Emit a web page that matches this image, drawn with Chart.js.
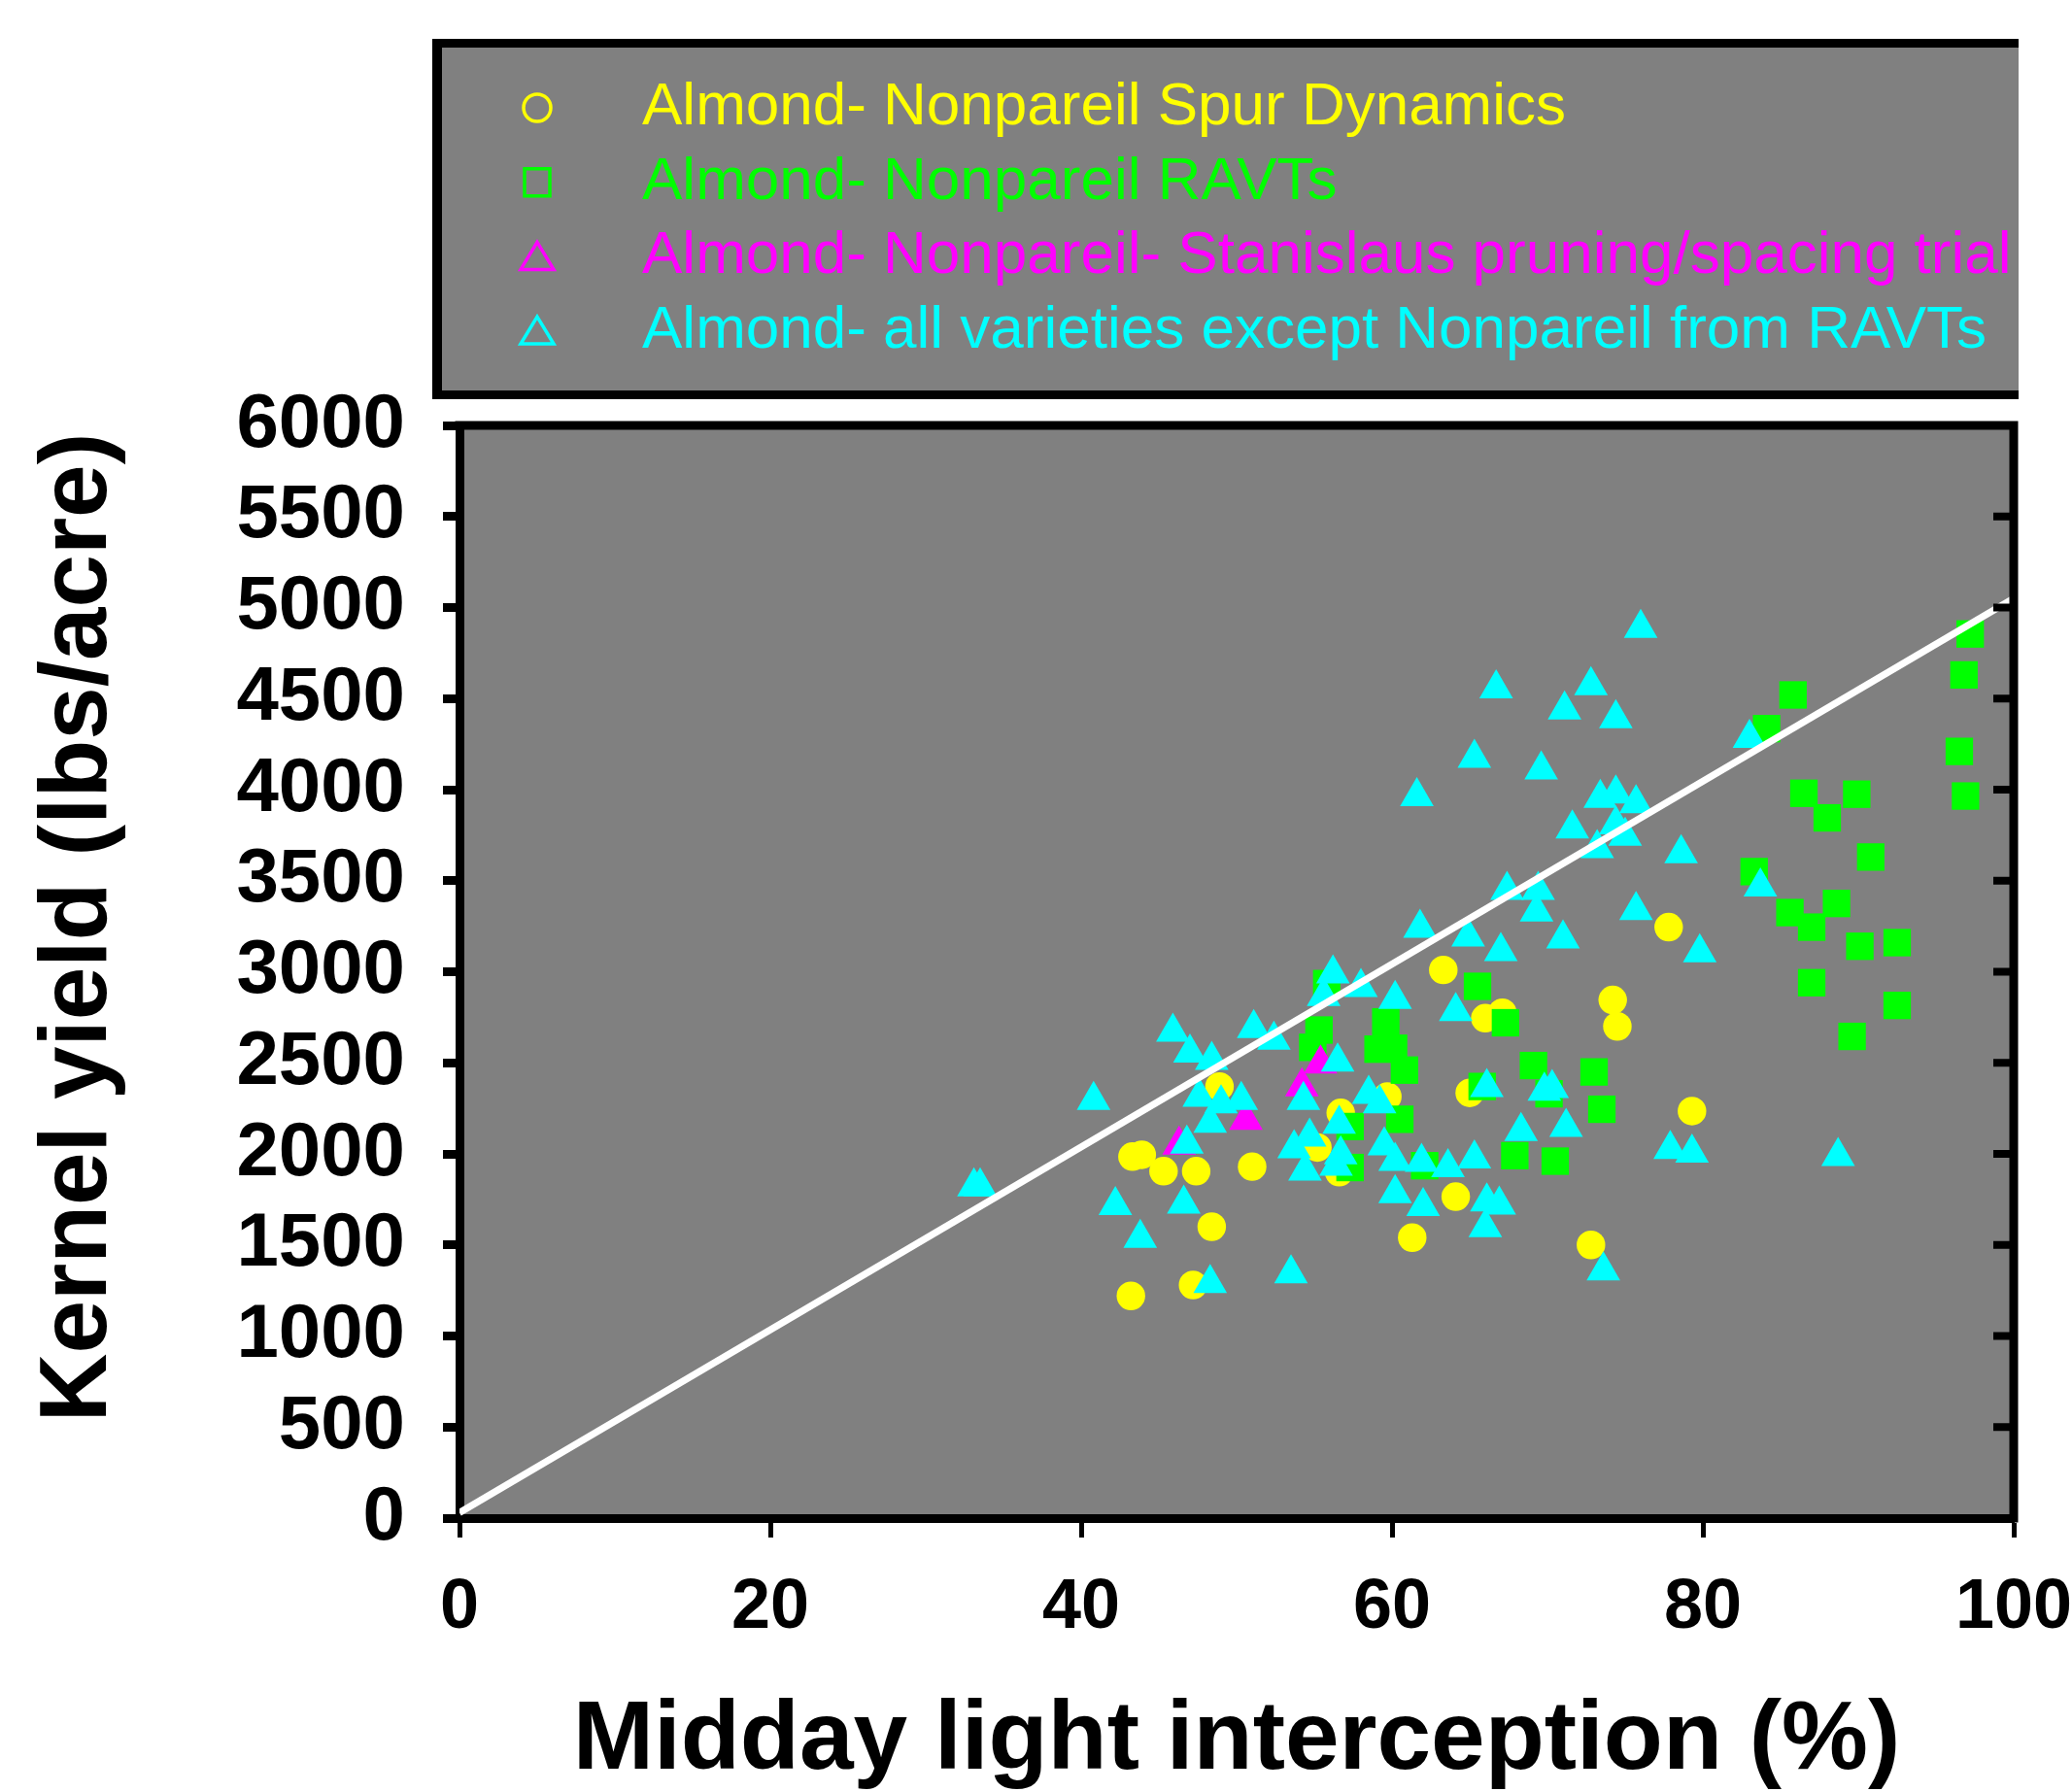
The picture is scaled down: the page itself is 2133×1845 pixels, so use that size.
<!DOCTYPE html>
<html>
<head>
<meta charset="utf-8">
<title>Kernel yield vs midday light interception</title>
<script src="https://cdn.jsdelivr.net/npm/chart.js@4.4.1/dist/chart.umd.min.js"></script>
<style>
  html, body { margin: 0; padding: 0; background: #fff; }
  #wrap { width: 2133px; height: 1845px; }
</style>
</head>
<body>
<div id="wrap"><canvas id="yieldChart" width="2133" height="1845"></canvas></div>
<script>
const seriesNames = [
  "Almond- Nonpareil Spur Dynamics",
  "Almond- Nonpareil RAVTs",
  "Almond- Nonpareil- Stanislaus pruning/spacing trial",
  "Almond- all varieties except Nonpareil from RAVTs"
];
const seriesColors = ["#ffff00", "#00ff00", "#ff00ff", "#00ffff"];
const seriesStyles = ["circle", "rect", "triangle", "triangle"];

const spurX = [43.2, 47.2, 48.4, 43.3, 43.9, 45.3, 47.4, 51.0, 48.9, 56.7, 55.2, 56.6,
  59.7, 65.0, 63.3, 66.0, 67.1, 74.2, 74.5, 77.8, 79.3, 64.1, 61.3, 72.8];
const spurY = [1220, 1280, 1600, 1985, 1995, 1905, 1905, 1930, 2370, 2225, 2035, 1900,
  2315, 2335, 3010, 2745, 2775, 2845, 2700, 3245, 2235, 1765, 1540, 1500];

const ravtX = [55.8, 55.3, 54.9, 65.5, 67.3, 59.6, 59.1, 60.1, 60.8, 60.5,
  57.3, 57.3, 62.1, 65.8, 69.1, 70.1, 73.0, 73.5, 67.9, 70.5,
  97.2, 96.8, 96.5, 96.9, 85.8, 84.1, 86.5, 88.0, 89.9, 90.8,
  83.3, 85.6, 87.0, 88.6, 90.1, 92.5, 87.0, 92.5, 89.6];
const ravtY = [2935, 2680, 2585, 2920, 2720, 2725, 2575, 2580, 2460, 2190,
  2150, 1925, 1935, 2370, 2485, 2330, 2450, 2245, 1990, 1960,
  4855, 4630, 4210, 3965, 4520, 4335, 3980, 3845, 3975, 3630,
  3550, 3325, 3245, 3375, 3140, 3160, 2940, 2815, 2645];

const stanX = [46.3, 50.6, 54.2, 55.4];
const stanY = [2050, 2185, 2370, 2495];

const otherX = [33.1, 33.5, 40.8, 45.9, 47.0, 48.4, 51.1, 52.4, 56.2, 55.6,
  58.0, 60.2, 47.6, 49.0, 50.3, 48.3, 54.3, 46.8, 53.7, 54.7,
  54.4, 42.2, 43.8, 46.6, 48.3, 53.5, 64.1, 56.5, 58.5, 59.2,
  56.6, 56.7, 56.4, 66.1, 69.8, 70.3, 68.3, 71.2, 59.5, 60.2,
  61.9, 63.6, 65.3, 60.2, 62.0, 66.1, 66.9, 66.0, 73.6, 77.9,
  79.3, 76.0, 66.7, 72.8, 71.1, 74.4, 65.3, 69.6, 61.6, 73.4,
  74.4, 75.7, 71.6, 74.4, 75.0, 73.2, 78.6, 67.4, 69.4, 69.3,
  75.7, 61.8, 64.9, 67.0, 71.0, 79.8, 83.0, 83.7, 88.7];
const otherY = [1820, 1820, 2295, 2670, 2555, 2515, 2690, 2625, 2990, 2865,
  2915, 2850, 2312, 2276, 2295, 2170, 2295, 2055, 2030, 2093,
  1907, 1717, 1537, 1726, 1290, 1343, 2783, 2506, 2328, 2276,
  2164, 1996, 1933, 2365, 2346, 2360, 2124, 2147, 2045, 1960,
  1955, 1925, 1973, 1783, 1712, 1738, 1720, 1596, 1359, 2025,
  2005, 4887, 4555, 4572, 4439, 4391, 4173, 4110, 3963, 3954,
  3977, 3924, 3785, 3808, 3746, 3678, 3649, 3448, 3448, 3329,
  3338, 3240, 3192, 3112, 3181, 3105, 4283, 3467, 1987];

const fitX = [0, 100];
const fitY = [30, 5050];

const xTicks = [0, 20, 40, 60, 80, 100];
const yTicks = [0, 500, 1000, 1500, 2000, 2500, 3000, 3500, 4000, 4500, 5000, 5500, 6000];

const xTitle = "Midday light interception (%)";
const yTitle = "Kernel yield (lbs/acre)";

const FONT = "'Liberation Sans', Arial, Helvetica, sans-serif";

function toPoints(xs, ys) {
  return xs.map((x, i) => ({ x: x, y: ys[i] }));
}

function drawMarker(ctx, style, x, y, color) {
  ctx.strokeStyle = color;
  ctx.lineWidth = 3.5;
  ctx.beginPath();
  if (style === "circle") {
    ctx.arc(x, y, 14, 0, Math.PI * 2);
  } else if (style === "rect") {
    ctx.rect(x - 13, y - 14, 26, 28);
  } else {
    ctx.moveTo(x, y - 15);
    ctx.lineTo(x + 17, y + 13);
    ctx.lineTo(x - 17, y + 13);
    ctx.closePath();
  }
  ctx.stroke();
}

const plotFrame = {
  id: "plotFrame",
  beforeDraw(chart) {
    const a = chart.chartArea;
    const ctx = chart.ctx;
    ctx.save();
    ctx.fillStyle = "#808080";
    ctx.fillRect(a.left, a.top, a.right - a.left, a.bottom - a.top);
    ctx.restore();
  },
  afterDatasetsDraw(chart) {
    const a = chart.chartArea;
    const ctx = chart.ctx;
    const ys = chart.scales.y;
    ctx.save();
    ctx.strokeStyle = "#000";
    ctx.lineWidth = 9;
    ctx.beginPath();
    ctx.moveTo(a.left - 4.5, a.top);
    ctx.lineTo(a.right + 4.5, a.top);
    ctx.moveTo(a.right, a.top);
    ctx.lineTo(a.right, a.bottom + 4.5);
    ctx.stroke();
    ctx.fillStyle = "#000";
    yTicks.forEach(v => {
      const py = ys.getPixelForValue(v);
      ctx.fillRect(a.right - 21, py - 4, 17, 8);
    });
    // y axis title, placed a little above the plot centre as in the original
    ctx.translate(82, 955);
    ctx.rotate(-Math.PI / 2);
    ctx.font = "bold 98px " + FONT;
    ctx.textAlign = "center";
    ctx.textBaseline = "middle";
    ctx.fillText(yTitle, 0, 0);
    ctx.restore();
  }
};

const legendBox = {
  id: "legendBox",
  afterDraw(chart) {
    const ctx = chart.ctx;
    const left = 445, top = 40, right = 2078, bottom = 411;
    ctx.save();
    ctx.fillStyle = "#808080";
    ctx.fillRect(left, top, right - left, bottom - top);
    ctx.fillStyle = "#000";
    ctx.fillRect(left, top, right - left, 9);
    ctx.fillRect(left, bottom - 9, right - left, 9);
    ctx.fillRect(left, top, 10, bottom - top);
    ctx.font = "62px " + FONT;
    ctx.textBaseline = "middle";
    ctx.textAlign = "left";
    seriesNames.forEach((name, i) => {
      const y = 111 + i * 76.7;
      drawMarker(ctx, seriesStyles[i], 553, y, seriesColors[i]);
      ctx.fillStyle = seriesColors[i];
      ctx.fillText(name, 661, y);
    });
    ctx.restore();
  }
};

function scatterSet(i, xs, ys, radius, order) {
  return {
    label: seriesNames[i],
    data: toPoints(xs, ys),
    pointStyle: seriesStyles[i],
    pointRadius: radius,
    backgroundColor: seriesColors[i],
    borderColor: seriesColors[i],
    pointBorderWidth: 0,
    order: order
  };
}

function loadChart() {
  const data = {
    datasets: [
      {
        label: "fit",
        data: toPoints(fitX, fitY),
        showLine: true,
        borderColor: "#ffffff",
        borderWidth: 7,
        pointRadius: 0,
        fill: false,
        order: 0
      },
      scatterSet(3, otherX, otherY, 20, 1),
      scatterSet(2, stanX, stanY, 20, 2),
      scatterSet(1, ravtX, ravtY, 20, 3),
      scatterSet(0, spurX, spurY, 14.7, 4)
    ]
  };
  const options = {
    responsive: false,
    animation: false,
    devicePixelRatio: 1,
    events: [],
    layout: { padding: { top: 438, right: 60, bottom: 0, left: 0 } },
    plugins: { legend: { display: false }, tooltip: { enabled: false } },
    scales: {
      x: {
        type: "linear",
        min: 0,
        max: 100,
        afterBuildTicks: s => { s.ticks = xTicks.map(v => ({ value: v })); },
        afterFit: s => { s.height = 282; s.paddingLeft = 0; s.paddingRight = 0; },
        ticks: {
          color: "#000", padding: 30, autoSkip: false, maxRotation: 0,
          callback: v => String(v),
          font: { family: FONT, size: 72, weight: "bold" }
        },
        grid: { drawOnChartArea: false, drawTicks: true, tickLength: 20, tickWidth: 5, tickColor: "#000" },
        border: { display: true, color: "#000", width: 9 },
        title: {
          display: true,
          text: xTitle,
          color: "#000",
          font: { family: FONT, size: 100, weight: "bold", lineHeight: 1 },
          padding: { top: 0, bottom: 2 }
        }
      },
      y: {
        min: 0,
        max: 6000,
        afterBuildTicks: s => { s.ticks = yTicks.map(v => ({ value: v })); },
        afterFit: s => { s.width = 473; s.paddingTop = 0; s.paddingBottom = 0; },
        ticks: {
          color: "#000", padding: 39, autoSkip: false,
          callback: v => String(v),
          font: { family: FONT, size: 78, weight: "bold" }
        },
        grid: { drawOnChartArea: false, drawTicks: true, tickLength: 17, tickWidth: 9, tickColor: "#000" },
        border: { display: true, color: "#000", width: 9 },
        title: { display: false, text: yTitle }
      }
    }
  };
  const config = { type: "scatter", data: data, options: options, plugins: [plotFrame, legendBox] };
  return new Chart(document.getElementById("yieldChart"), config);
}

loadChart();
</script>
</body>
</html>
